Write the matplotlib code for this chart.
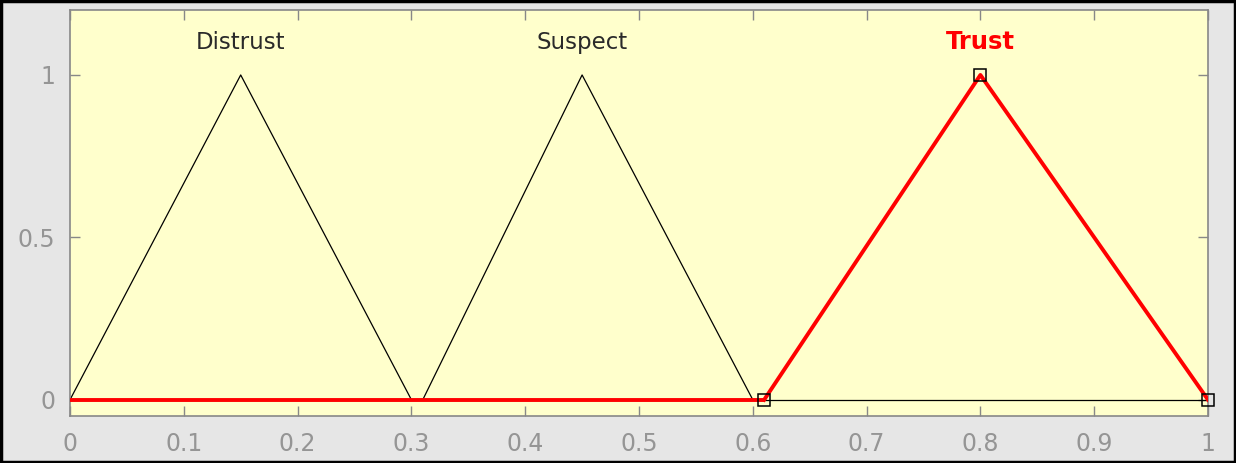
import matplotlib
matplotlib.use("Agg")
import matplotlib.pyplot as plt
from matplotlib.patches import Rectangle

# Membership functions (triangular): name -> (a, b, c)
mf_names = ["Distrust", "Suspect", "Trust"]
mf_params = [(0.0, 0.15, 0.30), (0.31, 0.45, 0.60), (0.61, 0.80, 1.00)]
selected = 2  # index of the highlighted membership function

x_ticks = [0, 0.1, 0.2, 0.3, 0.4, 0.5, 0.6, 0.7, 0.8, 0.9, 1]
x_tick_labels = ["0", "0.1", "0.2", "0.3", "0.4", "0.5", "0.6", "0.7", "0.8", "0.9", "1"]
y_ticks = [0, 0.5, 1]
y_tick_labels = ["0", "0.5", "1"]

fig = plt.figure(figsize=(12.36, 4.63), dpi=100, facecolor="#e6e6e6")
ax = fig.add_axes([70 / 1236, 47 / 463, 1138 / 1236, 406 / 463])
ax.set_facecolor("#ffffcc")

# baseline
ax.plot([0, 1], [0, 0], color="black", lw=0.9, zorder=2)

label_y = 1.08
for i, (name, (a, b, c)) in enumerate(zip(mf_names, mf_params)):
    if i == selected:
        continue
    ax.plot([a, b, c], [0, 1, 0], color="black", lw=0.9, zorder=2)
    ax.text(b, label_y, name, ha="center", va="baseline", fontsize=16.5, color="#2a2a2a")

a, b, c = mf_params[selected]
ax.plot([0, a], [0, 0], color="#ff0000", lw=2.8, zorder=3, solid_capstyle="butt")
ax.plot([a, b, c], [0, 1, 0], color="#ff0000", lw=2.8, zorder=3)
ax.plot([a, b, c], [0, 1, 0], ls="none", marker="s", ms=9, mfc="none",
        mec="black", mew=1.1, zorder=4, clip_on=False)
ax.text(b, label_y, mf_names[selected], ha="center", va="baseline", fontsize=17.5,
        color="#ff0000", fontweight="bold")

ax.set_xlim(0, 1)
ax.set_ylim(-0.05, 1.2)
ax.set_xticks(x_ticks)
ax.set_xticklabels(x_tick_labels)
ax.set_yticks(y_ticks)
ax.set_yticklabels(y_tick_labels)
ax.tick_params(direction="in", length=7, width=1, color="#888888",
               labelcolor="#959595", labelsize=17, top=True, right=True)
ax.tick_params(axis="x", pad=11.5)
ax.tick_params(axis="y", pad=10.5)
for s in ax.spines.values():
    s.set_color("#888888")
    s.set_linewidth(1.2)

# image frame
fig.add_artist(Rectangle((0.001, 0.002), 0.998, 0.996, transform=fig.transFigure,
                         fill=False, edgecolor="black", lw=2.5))

fig.savefig("out.png", dpi=100, facecolor=fig.get_facecolor())
